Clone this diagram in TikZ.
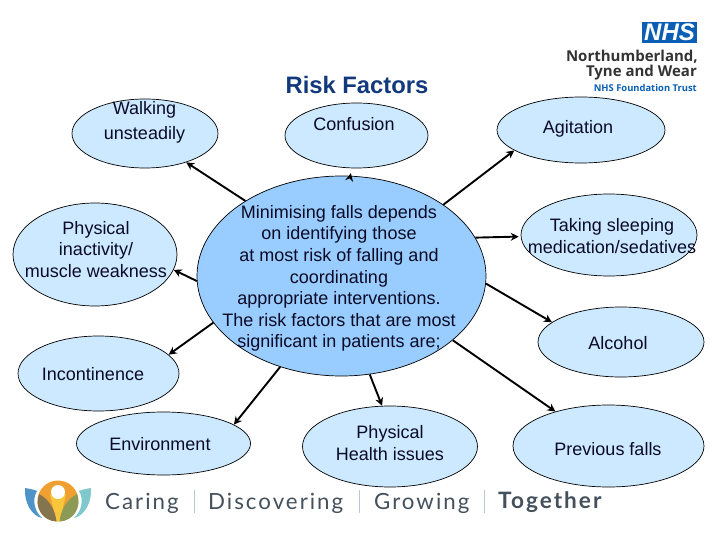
\documentclass[tikz,border=0pt]{standalone}
\usepackage{fontspec}
\usepackage{tikz}
\setmainfont{Liberation Sans}
\newfontfamily\logofont{Open Sans}
\newfontfamily\footfont[LetterSpace=9]{Lato}
\definecolor{outerblue}{HTML}{CCE9FF}
\definecolor{mainblue}{HTML}{99CCFF}
\definecolor{inkblue}{HTML}{0B0B26}
\definecolor{titleblue}{HTML}{12397C}
\definecolor{nhsblue}{HTML}{0A5EB4}
\definecolor{footgrey}{HTML}{44505C}
\definecolor{footbarcol}{HTML}{B9C9D2}
\definecolor{petalblue}{HTML}{4F94C8}
\definecolor{petalteal}{HTML}{7FC8CC}
\definecolor{budorange}{HTML}{EFA030}
\definecolor{budyellow}{HTML}{F7C63C}
\definecolor{leafbrown}{HTML}{85754F}
\definecolor{leafolive}{HTML}{8C9A55}
\usetikzlibrary{shapes.geometric,arrows.meta}
\tikzset{
	oval/.style={draw=black,line width=0.7pt,fill=outerblue,ellipse,inner sep=0pt},
	lbl/.style={align=center,text=inkblue,font=\fontsize{18}{21.6}\selectfont,inner sep=0pt},
	arrow/.style={-{Stealth[length=8pt,width=8pt]},line width=1.9pt,black},
	footword/.style={anchor=west,text=footgrey,inner sep=0pt,font=\footfont\fontsize{22.3}{24}\selectfont},
	footbar/.style={line width=0.8pt,color=footbarcol}
}
\begin{document}
\begin{tikzpicture}[x=1pt,y=-1pt]
	\useasboundingbox (0,0) rectangle (720,540);
	% outer ovals
	\node[oval,minimum width=146,minimum height=69] (walking) at (145,133.5) {};
	\node[oval,minimum width=143,minimum height=65] (confusion) at (356.5,135.5) {};
	\node[oval,minimum width=168,minimum height=66] (agitation) at (581,130) {};
	\node[oval,minimum width=164,minimum height=103] (inactivity) at (95,254.5) {};
	\node[oval,minimum width=176,minimum height=82] (sleeping) at (609,235) {};
	\node[oval,minimum width=166,minimum height=70] (alcohol) at (621,342) {};
	\node[oval,minimum width=161,minimum height=75] (incontinence) at (98.5,373.5) {};
	\node[oval,minimum width=174,minimum height=63] (environment) at (163.5,443.5) {};
	\node[oval,minimum width=175,minimum height=81] (health) at (390,446.5) {};
	\node[oval,minimum width=191,minimum height=82] (previous) at (608.5,446) {};
	\node[oval,fill=mainblue,minimum width=289,minimum height=200] (main) at (341.5,276) {};
	% arrows
	\draw[arrow] (main.142.4) -- (walking.-35.5);
	\draw[arrow,shorten >=5pt] (main.85) -- (confusion.-98);
	\draw[arrow] (main.35.6) -- (agitation.197.9);
	\draw[arrow] (main.182) -- (inactivity.-11.5);
	\draw[arrow,shorten >=2pt] (main.16.1) -- (sleeping.181);
	\draw[arrow] (main.-3) -- (alcohol.164);
	\draw[arrow] (main.200.8) -- (incontinence.15.6);
	\draw[arrow] (main.236.3) -- (environment.15.8);
	\draw[arrow] (main.-74.2) -- (health.101.2);
	\draw[arrow] (main.-30.6) -- (previous.147.3);
	% labels
	\node[text=titleblue,inner sep=0pt,font=\bfseries\fontsize{23.8}{28}\selectfont] (title) at (357,85) {Risk Factors};
	\node[lbl] (walkingtext) at (144.5,122.5) {Walking\hspace{6pt}\\[3.4pt]unsteadily};
	\node[lbl] (confusiontext) at (354,124) {Confusion};
	\node[lbl] (agitationtext) at (578,129) {Agitation};
	\node[lbl] (inactivitytext) at (96,249.5) {Physical\\inactivity/\\muscle weakness};
	\node[lbl] (sleepingtext) at (612,236) {Taking sleeping\\medication/sedatives};
	\node[lbl] (alcoholtext) at (618,343) {Alcohol};
	\node[lbl] (incontinencetext) at (93,374) {Incontinence};
	\node[lbl] (environmenttext) at (160,444) {Environment};
	\node[lbl] (healthtext) at (390,443) {Physical\\Health issues};
	\node[lbl] (previoustext) at (608,449) {Previous falls};
	\node[lbl] (maintext) at (339,278.5) {Minimising falls depends\\on identifying those\\at most risk of falling and\\coordinating\\appropriate interventions.\\The risk factors that are most\\significant in patients are;};
	% trust logo
	\fill[nhsblue] (642,22) rectangle (697,43);
	\node[text=white,inner sep=0pt,font=\bfseries\itshape\fontsize{24}{24}\selectfont] (nhs) at (669.5,32.5) {NHS};
	\node[anchor=east,text=black!80,inner sep=0pt,font=\logofont\bfseries\fontsize{15}{16}\selectfont] (trustname) at (698,57) {Northumberland,};
	\node[anchor=east,text=black!80,inner sep=0pt,font=\logofont\bfseries\fontsize{15}{16}\selectfont] (trustplace) at (697,73) {Tyne and Wear};
	\node[anchor=east,text=nhsblue,inner sep=0pt,font=\logofont\bfseries\fontsize{9.4}{11}\selectfont] (trustkind) at (697,88) {NHS Foundation Trust};
	% footer
	\node[footword] (caring) at (105,503) {Caring};
	\node[footword] (discovering) at (208,503) {Discovering};
	\node[footword] (growing) at (374,503) {Growing};
	\node[footword,font=\footfont\bfseries\fontsize{22.6}{24}\selectfont] (together) at (498,502) {Together};
	\draw[footbar] (194,490) -- (194,513);
	\draw[footbar] (359,490) -- (359,513);
	\draw[footbar] (484,490) -- (484,513);
	% footer emblem
	\fill[petalblue] (25,488) .. controls (31,489) and (35,490) .. (37,491) .. controls (32,499) and (34,511) .. (42,518) .. controls (32,516) and (24,503) .. (25,488);
	\fill[petalteal] (91,488) .. controls (85,489) and (81,490) .. (79,491) .. controls (84,499) and (82,511) .. (74,518) .. controls (84,516) and (92,503) .. (91,488);
	\fill[budorange] (58,501) circle (20.5);
	\fill[budyellow] (50,494) -- (66,494) -- (60,521) -- (56,521) -- cycle;
	\fill[leafbrown] (56.5,521.5) .. controls (55,510) and (50,500) .. (39,494) .. controls (34,508) and (43,521) .. (56.5,521.5);
	\fill[leafolive] (59.5,521.5) .. controls (61,510) and (66,500) .. (77,494) .. controls (82,508) and (73,521) .. (59.5,521.5);
	\fill[white] (58,492) circle (7);
\end{tikzpicture}
\end{document}
